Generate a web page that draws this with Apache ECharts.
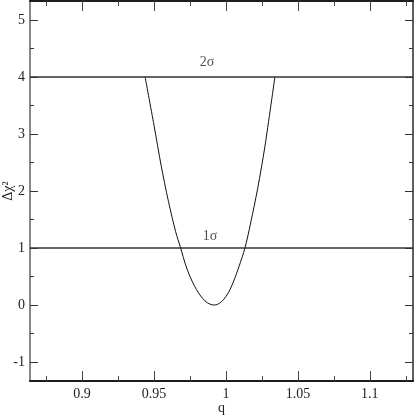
<!DOCTYPE html>
<html>
<head>
<meta charset="utf-8">
<script src="https://cdn.jsdelivr.net/npm/echarts@6/dist/echarts.min.js"></script>
<style>
  html, body { margin: 0; padding: 0; background: #fff; }
  #chart { width: 415px; height: 415px; }
</style>
</head>
<body>
<div id="chart"></div>
<script>
// Δχ² profile against q
var qValues = [0.9438, 0.950, 0.955, 0.960, 0.965, 0.9685, 0.972, 0.975, 0.978, 0.981, 0.984, 0.987, 0.9895, 0.9917,
               0.994, 0.997, 1.000, 1.003, 1.006, 1.009, 1.0132, 1.017, 1.022, 1.027, 1.034];
var chiValues = [4.0, 3.15, 2.44, 1.82, 1.29, 1.0, 0.70, 0.50, 0.34, 0.21, 0.11, 0.04, 0.01, 0,
                 0.01, 0.06, 0.15, 0.28, 0.46, 0.67, 1.0, 1.42, 2.04, 2.77, 4.0];

// confidence levels (horizontal lines) and their labels
var sigmaLevels = [1, 4];
var sigmaNames = ['1σ', '2σ'];
var sigmaLabelQ = [0.9889, 0.9868];
var sigmaLabelY = [1.21, 4.26];

var xMajorTicks = [0.9, 0.95, 1, 1.05, 1.1];
var xMinorTicks = [0.875, 0.925, 0.975, 1.025, 1.075, 1.125];
var yMajorTicks = [-1, 0, 1, 2, 3, 4, 5];
var yMinorTicks = [-0.5, 0.5, 1.5, 2.5, 3.5, 4.5];

var X_MIN = 0.8638, X_MAX = 1.13;
var Y_MIN = -1.333, Y_MAX = 5.333;
var serif = '"Liberation Serif", "DejaVu Serif", serif';

var curve = qValues.map(function (q, i) { return [q, chiValues[i]]; });

function xAxisDef(pos, ticks, len, labels, lineColor) {
    return {
        type: 'value', position: pos, min: X_MIN, max: X_MAX,
        name: labels ? 'q' : '', nameLocation: 'middle', nameGap: 20, nameMoveOverlap: false,
        nameTextStyle: {fontFamily: serif, fontSize: 14, color: '#222'},
        axisLine: {show: true, onZero: false, lineStyle: {color: lineColor, width: 1.5}},
        axisTick: {show: true, inside: true, length: len, customValues: ticks, lineStyle: {color: '#444', width: 1}},
        axisLabel: {show: labels, customValues: ticks, margin: 6, fontFamily: serif, fontSize: 14, color: '#222',
            formatter: function (v) { return String(+v.toFixed(3)); }},
        splitLine: {show: false}
    };
}

function yAxisDef(pos, ticks, len, labels, lineColor, lineWidth) {
    return {
        type: 'value', position: pos, min: Y_MIN, max: Y_MAX,
        name: labels ? 'Δχ²' : '', nameLocation: 'middle', nameGap: 15, nameRotate: 90, nameMoveOverlap: false,
        nameTextStyle: {fontFamily: serif, fontSize: 14, color: '#222'},
        axisLine: {show: true, onZero: false, lineStyle: {color: lineColor, width: lineWidth}},
        axisTick: {show: true, inside: true, length: len, customValues: ticks, lineStyle: {color: '#333', width: 1}},
        axisLabel: {show: labels, customValues: ticks, margin: 5, fontFamily: serif, fontSize: 14, color: '#222'},
        splitLine: {show: false}
    };
}

var chart = echarts.init(document.getElementById('chart'));
chart.setOption({
    backgroundColor: '#fff',
    animation: false,
    grid: {left: 30, top: 1, right: 2, bottom: 34, containLabel: false, outerBoundsMode: 'none'},
    xAxis: [
        xAxisDef('bottom', xMajorTicks, 10, true, '#111'),
        xAxisDef('bottom', xMinorTicks, 5, false, '#111'),
        xAxisDef('top', xMajorTicks, 10, false, '#111'),
        xAxisDef('top', xMinorTicks, 5, false, '#111')
    ],
    yAxis: [
        yAxisDef('left', yMajorTicks, 8, true, '#888', 2),
        yAxisDef('left', yMinorTicks, 4, false, '#888', 2),
        yAxisDef('right', yMajorTicks, 8, false, '#555', 1.5),
        yAxisDef('right', yMinorTicks, 4, false, '#555', 1.5)
    ],
    series: [
        {
            type: 'line', data: curve, showSymbol: false, smooth: 0.3,
            lineStyle: {color: '#111', width: 1}, z: 3
        },
        {
            type: 'line', data: [], silent: true,
            markLine: {
                symbol: 'none', silent: true, label: {show: false},
                lineStyle: {color: '#333', width: 1.5, type: 'solid'},
                data: sigmaLevels.map(function (v) { return {yAxis: v}; })
            }
        },
        {
            type: 'scatter', symbolSize: 0, silent: true,
            data: sigmaNames.map(function (n, i) { return {value: [sigmaLabelQ[i], sigmaLabelY[i]], name: n}; }),
            label: {show: true, position: 'inside', formatter: '{b}', fontFamily: serif, fontSize: 14, color: '#222'}
        }
    ]
});
</script>
</body>
</html>
